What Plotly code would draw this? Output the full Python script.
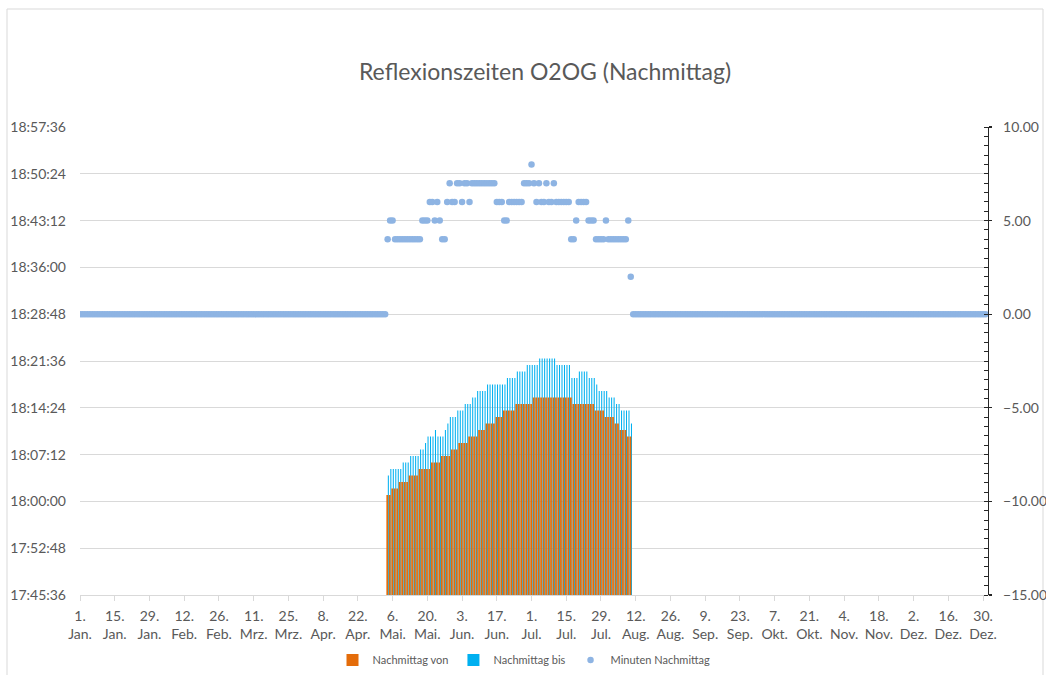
import pandas as pd
import plotly.graph_objects as go

# ---------------- data ----------------
year_days = pd.date_range("2024-01-01", "2024-12-31", freq="D")  # 366 days
window_start = "2024-05-04"
window_days = pd.date_range(window_start, periods=99, freq="D")  # 4 May .. 10 Aug

# "Nachmittag von": minutes after 18:00
von_min_after_18 = (
    [1] * 2 + [2] * 3 + [3] * 4 + [4] * 4 + [5] * 5 + [6] * 4 + [7] * 4 + [8] * 3
    + [9] * 4 + [10] * 4 + [11] * 3 + [12] * 4 + [13] * 3 + [14] * 5 + [15] * 7
    + [16] * 16 + [15] * 9 + [14] * 4 + [13] * 4 + [12] * 2 + [11] * 3 + [10] * 2
)

# "Nachmittag bis": minutes after 18:00
bis_min_after_18 = (
    [4] + [5] * 5 + [6] * 3 + [7] * 4 + [8] * 2 + [9] + [10] * 3 + [11] + [10] * 3
    + [11] + [12] + [13] * 3 + [14] * 3 + [15] * 3 + [16] * 2 + [17] * 4 + [18] * 8
    + [19] * 4 + [20] * 4 + [21] * 5 + [22] * 7 + [21] * 6 + [19] * 3 + [20] * 4
    + [19] * 3 + [18] + [17] * 4 + [16] * 3 + [15] * 2 + [14] * 4 + [12]
)

# "Minuten Nachmittag" inside the window
minuten_window = (
    [4] + [5] * 2 + [4] * 11 + [5] * 3 + [6] * 2 + [5] + [6] + [5] + [4] * 2 + [6]
    + [7] + [6] * 2 + [7] * 2 + [6] + [7] * 2 + [6] + [7] * 10 + [6] * 3 + [5] * 2
    + [6] * 6 + [7] * 3 + [8] + [7] + [6] + [7] + [6] * 2 + [7] + [6] * 2 + [7]
    + [6] * 6 + [4] * 2 + [5] + [6] * 4 + [5] * 3 + [4] * 4 + [5] + [4] * 8 + [5] + [2]
)
minuten_before = [0] * 124
minuten_after = [0] * 143
minuten_nachmittag = minuten_before + minuten_window + minuten_after

left_tick_text = ["17:45:36", "17:52:48", "18:00:00", "18:07:12", "18:14:24", "18:21:36",
                  "18:28:48", "18:36:00", "18:43:12", "18:50:24", "18:57:36"]

x_tick_dates = ["2024-01-01", "2024-01-15", "2024-01-29", "2024-02-12", "2024-02-26",
                "2024-03-11", "2024-03-25", "2024-04-08", "2024-04-22", "2024-05-06",
                "2024-05-20", "2024-06-03", "2024-06-17", "2024-07-01", "2024-07-15",
                "2024-07-29", "2024-08-12", "2024-08-26", "2024-09-09", "2024-09-23",
                "2024-10-07", "2024-10-21", "2024-11-04", "2024-11-18", "2024-12-02",
                "2024-12-16", "2024-12-30"]
x_tick_text = ["1.<br>Jan.", "15.<br>Jan.", "29.<br>Jan.", "12.<br>Feb.", "26.<br>Feb.",
               "11.<br>Mrz.", "25.<br>Mrz.", "8.<br>Apr.", "22.<br>Apr.", "6.<br>Mai.",
               "20.<br>Mai.", "3.<br>Jun.", "17.<br>Jun.", "1.<br>Jul.", "15.<br>Jul.",
               "29.<br>Jul.", "12.<br>Aug.", "26.<br>Aug.", "9.<br>Sep.", "23.<br>Sep.",
               "7.<br>Okt.", "21.<br>Okt.", "4.<br>Nov.", "18.<br>Nov.", "2.<br>Dez.",
               "16.<br>Dez.", "30.<br>Dez."]

# ---------------- helpers ----------------
def hms_to_min(s):
    h, m, sec = (int(p) for p in s.split(":"))
    return h * 60 + m + sec / 60.0

left_tick_vals = [hms_to_min(t) for t in left_tick_text]
von_y = [18 * 60 + m for m in von_min_after_18]
bis_y = [18 * 60 + m for m in bis_min_after_18]

DAY_MS = 86400000
FONT = "Lato, 'Open Sans', sans-serif"
GREY_TXT = "#595959"
GRID = "#D9D9D9"

fig = go.Figure()
# blue first (drawn below), orange on top; legend order via legendrank
fig.add_trace(go.Bar(
    x=window_days, y=bis_y, name="Nachmittag bis", legendrank=2,
    marker=dict(color="#00B0F0", line=dict(width=0)),
    width=0.42 * DAY_MS, offset=0.08 * DAY_MS,
))
fig.add_trace(go.Bar(
    x=window_days, y=von_y, name="Nachmittag von", legendrank=1,
    marker=dict(color="#E46C0A", line=dict(width=0)),
    width=0.70 * DAY_MS, offset=-0.5 * DAY_MS,
))
fig.add_trace(go.Scatter(
    x=year_days, y=minuten_nachmittag, name="Minuten Nachmittag", legendrank=3,
    mode="markers", yaxis="y2",
    marker=dict(color="#8EB4E3", size=6.5, line=dict(width=0)),
))

W, H = 1046, 675
L, R, T, B = 80, 58, 127, 80
pw, ph = W - L - R, H - T - B

def px_x(px):
    return (px - L) / pw

def px_y(py):
    return (H - B - py) / ph

fig.update_layout(
    width=W, height=H,
    margin=dict(l=L, r=R, t=T, b=B, autoexpand=False),
    paper_bgcolor="white", plot_bgcolor="white",
    barmode="overlay", bargap=0.0,
    font=dict(family=FONT, color=GREY_TXT, size=14),
    title=dict(text="Reflexionszeiten O2OG (Nachmittag)",
               font=dict(family=FONT, size=23, color=GREY_TXT),
               x=px_x(545), xref="paper", xanchor="center",
               y=1 - 72 / H, yref="container", yanchor="middle"),
    xaxis=dict(
        type="date", automargin=False,
        range=["2024-01-01", "2025-01-01"],
        tickvals=x_tick_dates, ticktext=x_tick_text,
        tickfont=dict(size=14, color=GREY_TXT),
        showgrid=False, showline=True, linecolor=GRID, linewidth=1,
        ticks="outside", ticklen=5, tickcolor=GRID,
        zeroline=False, ticklabelstandoff=3,
    ),
    yaxis=dict(
        automargin=False,
        range=[left_tick_vals[0], left_tick_vals[-1]],
        tickvals=left_tick_vals, ticktext=left_tick_text,
        tickfont=dict(size=14, color=GREY_TXT),
        showgrid=True, gridcolor=GRID, gridwidth=1,
        showline=False, ticks="", zeroline=False,
        ticklabelstandoff=13,
    ),
    yaxis2=dict(
        automargin=False,
        overlaying="y", side="right",
        range=[-15, 10], dtick=5, tickformat=".2f",
        tickfont=dict(size=14, color=GREY_TXT),
        showgrid=False, zeroline=False,
        showline=True, linecolor="#262626", linewidth=1.3,
        ticks="outside", ticklen=3, tickcolor="#262626", tickwidth=1.3,
        minor=dict(dtick=0.5, ticks="inside", ticklen=4, tickcolor="#262626", tickwidth=1),
        ticklabelstandoff=8,
    ),
    legend=dict(
        orientation="h", x=px_x(524), xanchor="center",
        y=px_y(660), yanchor="middle",
        font=dict(size=11, color=GREY_TXT),
        itemwidth=30, tracegroupgap=0,
        bgcolor="rgba(0,0,0,0)",
    ),
    showlegend=True,
    shapes=[dict(type="rect", xref="paper", yref="paper",
                 x0=px_x(7), x1=px_x(1043), y0=px_y(690), y1=px_y(9),
                 line=dict(color=GRID, width=1), fillcolor="rgba(0,0,0,0)", layer="below")],
)

post = """
document.documentElement.style.margin = '0';
document.documentElement.style.padding = '0';
document.body.style.margin = '0';
document.body.style.padding = '0';
document.body.style.overflow = 'hidden';
var gd = document.getElementById('{plot_id}');
function soften() {
  gd.querySelectorAll('.barlayer path').forEach(function (p) {
    p.style.shapeRendering = 'geometricPrecision';
  });
}
soften();
setTimeout(soften, 50);
"""

fig.write_html("out.html", config={"staticPlot": True}, post_script=post)
